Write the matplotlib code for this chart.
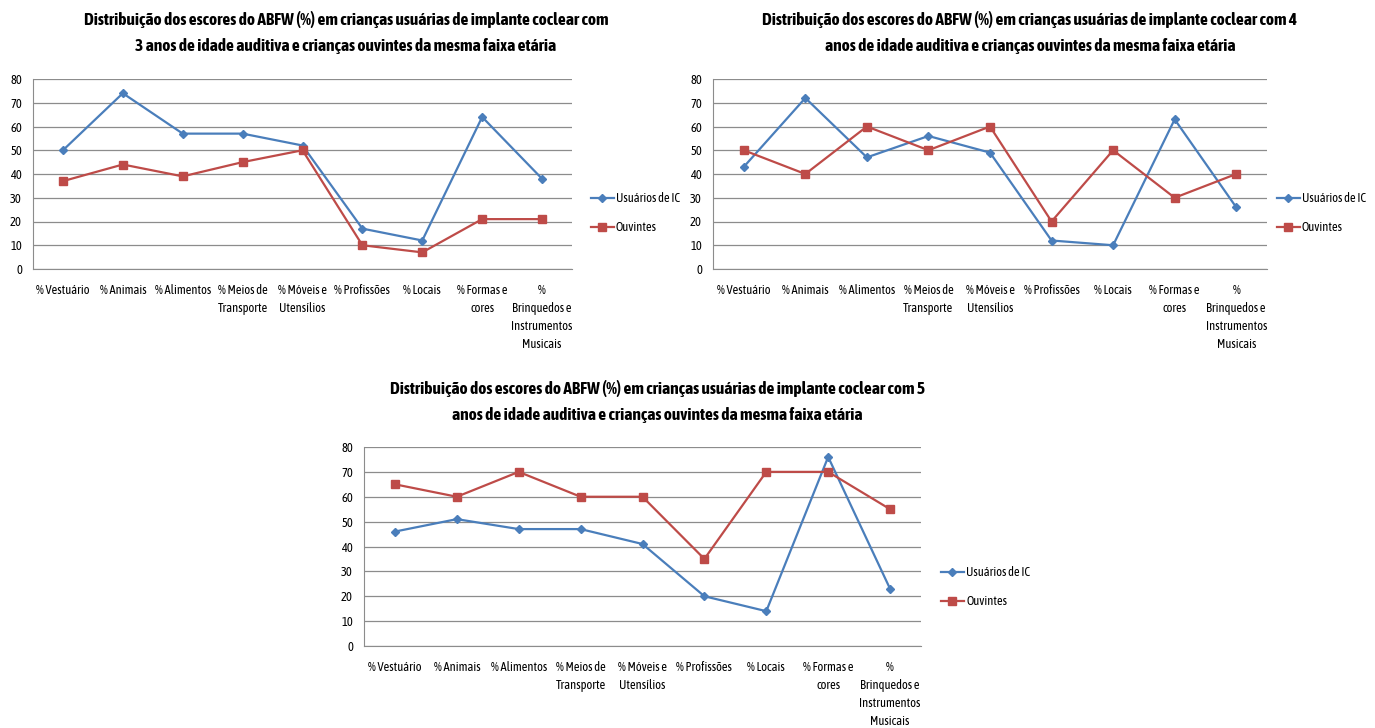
import matplotlib
matplotlib.use("Agg")
import matplotlib.pyplot as plt
from matplotlib import font_manager

categories = ["% Vestuário", "% Animais", "% Alimentos", "% Meios de\nTransporte",
              "% Móveis e\nUtensílios", "% Profissões", "% Locais", "% Formas e\ncores",
              "%\nBrinquedos e\nInstrumentos\nMusicais"]

ic_3 = [50, 74, 57, 57, 52, 17, 12, 64, 38]
ouv_3 = [37, 44, 39, 45, 50, 10, 7, 21, 21]
ic_4 = [43, 72, 47, 56, 49, 12, 10, 63, 26]
ouv_4 = [50, 40, 60, 50, 60, 20, 50, 30, 40]
ic_5 = [46, 51, 47, 47, 41, 20, 14, 76, 23]
ouv_5 = [65, 60, 70, 60, 60, 35, 70, 70, 55]

titles = [
    "Distribuição dos escores do ABFW (%) em crianças usuárias de implante coclear com\n3 anos de idade auditiva e crianças ouvintes da mesma faixa etária",
    "Distribuição dos escores do ABFW (%) em crianças usuárias de implante coclear com 4\nanos de idade auditiva e crianças ouvintes da mesma faixa etária",
    "Distribuição dos escores do ABFW (%) em crianças usuárias de implante coclear com 5\nanos de idade auditiva e crianças ouvintes da mesma faixa etária",
]

names = {f.name for f in font_manager.fontManager.ttflist}
candidates = ["Asap Condensed", "Archivo Narrow", "Carlito", "Liberation Sans"]
base = next((c for c in candidates if c in names), "DejaVu Sans")
plt.rcParams["font.family"] = [base, "DejaVu Sans"]

W, H = 1375, 728
fig = plt.figure(figsize=(W / 100, H / 100), dpi=100)

BLUE = "#4A7EBB"
RED = "#BE4B48"
GRID = "#8c8c8c"


def panel(x0, x1, ytop, ybot, ic, ouv, title, title_cx, title_y, leg_x, leg_y):
    ax = fig.add_axes([x0 / W, 1 - ybot / H, (x1 - x0) / W, (ybot - ytop) / H])
    xs = range(len(categories))
    ax.plot(xs, ic, color=BLUE, lw=1.6, marker="D", ms=4.5, label="Usuários de IC", zorder=3)
    ax.plot(xs, ouv, color=RED, lw=1.6, marker="s", ms=6, label="Ouvintes", zorder=3)
    ax.set_xlim(-0.5, len(categories) - 0.5)
    ax.set_ylim(0, 80)
    ax.set_yticks(range(0, 81, 10))
    ax.grid(axis="y", color=GRID, lw=0.9)
    ax.set_axisbelow(True)
    ax.set_xticks(list(xs))
    ax.set_xticklabels(categories, fontsize=9, linespacing=1.5, va="top")
    ax.tick_params(axis="x", length=0, pad=11)
    ax.tick_params(axis="y", length=0, pad=8, labelsize=9)
    for s in ("top", "right"):
        ax.spines[s].set_visible(False)
    ax.spines["left"].set_color(GRID)
    ax.spines["bottom"].set_color(GRID)
    fig.text(title_cx / W, 1 - title_y / H, title, ha="center", va="top",
             fontsize=12.5, fontweight="bold", linespacing=1.75)
    ax.legend(loc="center left", bbox_to_anchor=((leg_x - x0) / (x1 - x0), 1 - (leg_y - ytop) / (ybot - ytop)),
              frameon=False, fontsize=9, handlelength=1.8, labelspacing=1.3,
              handletextpad=0.2, borderaxespad=0)
    return ax


panel(33, 572, 79, 269, ic_3, ouv_3, titles[0], 346, 11, 586, 213)
panel(713, 1267, 79, 269, ic_4, ouv_4, titles[1], 1030, 11, 1272, 213)
panel(364, 921, 447, 646, ic_5, ouv_5, titles[2], 657, 380, 936, 587)

fig.savefig("out.png", dpi=100, facecolor="white")
